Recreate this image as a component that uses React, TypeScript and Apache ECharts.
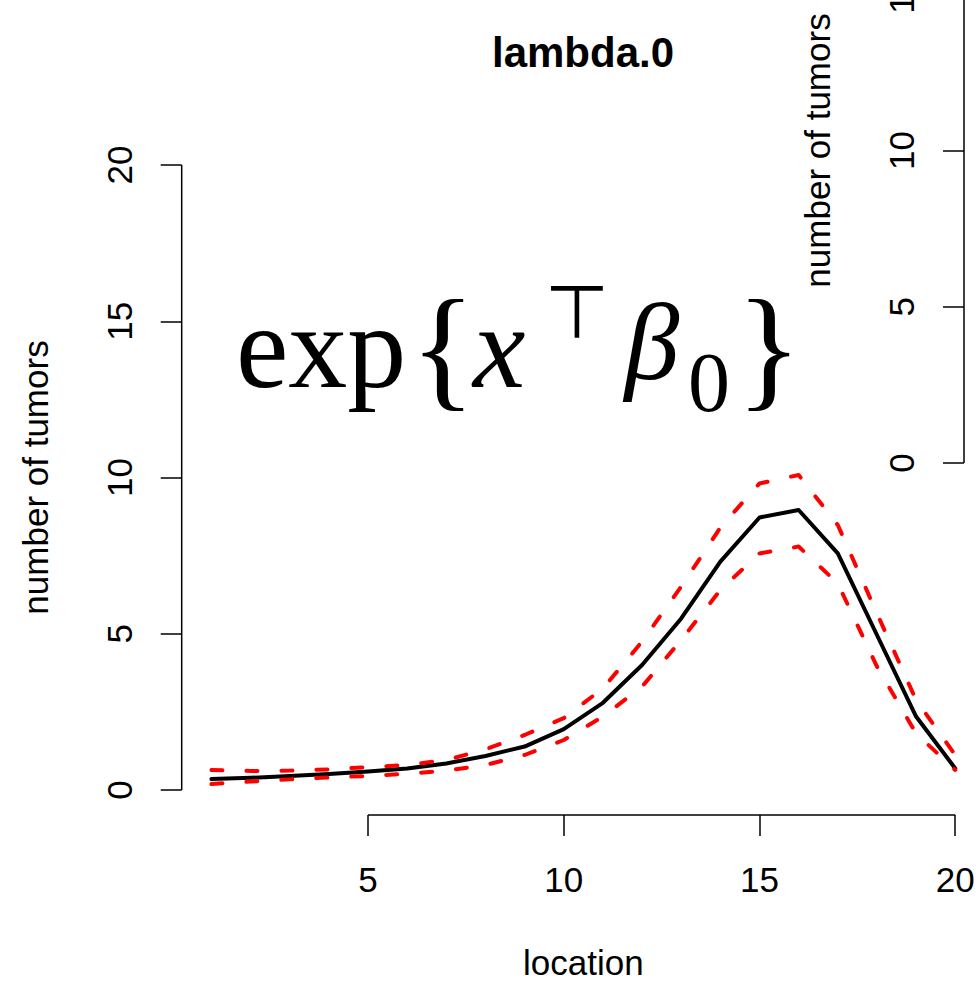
import React, { useEffect, useRef } from "react";
import * as echarts from "echarts";

// ---- data ----
const locations = [1, 2, 3, 4, 5, 6, 7, 8, 9, 10, 11, 12, 13, 14, 15, 16, 17, 18, 19, 20];
const estimate = [0.35, 0.39, 0.45, 0.51, 0.59, 0.69, 0.85, 1.09, 1.39, 1.95, 2.79, 4.0, 5.49, 7.31, 8.72, 8.96, 7.57, 4.96, 2.35, 0.69];
const upperBand = [0.64, 0.61, 0.62, 0.66, 0.73, 0.8, 0.96, 1.3, 1.76, 2.3, 3.25, 4.75, 6.51, 8.4, 9.81, 10.08, 8.48, 5.65, 2.88, 1.12];
const lowerBand = [0.19, 0.27, 0.34, 0.4, 0.45, 0.52, 0.62, 0.8, 1.12, 1.6, 2.35, 3.31, 4.8, 6.4, 7.57, 7.79, 6.61, 3.95, 1.81, 0.64];
const xTickValues = [5, 10, 15, 20];
const yTickValues = [0, 5, 10, 15, 20];
const titleText = "lambda.0";
const xLabel = "location";
const yLabel = "number of tumors";

// R-style axis extents (4% padding)
const xLo = 1, xHi = 20, yLo = 0, yHi = 20;
const xPad = 0.04 * (xHi - xLo);
const yPad = 0.04 * (yHi - yLo);
const xMin = xLo - xPad, xMax = xHi + xPad;
const yMin = yLo - yPad, yMax = yHi + yPad;

const SANS = "Liberation Sans, Arial, Helvetica, sans-serif";
const SERIF = "Liberation Serif, Times New Roman, serif";

const pairs = (ys: number[]) => locations.map((x, i) => [x, ys[i]]);

export default function App() {
  const ref = useRef<HTMLDivElement>(null);
  useEffect(() => {
    if (!ref.current) return;
    const chart = echarts.init(ref.current, null, { renderer: "svg" });

    const axisLabelStyle = { color: "#000", fontSize: 35, fontFamily: SANS };
    const tickStyle = { color: "#000", width: 1.5 };

    const option: any = {
      animation: false,
      backgroundColor: "#fff",
      title: {
        text: titleText,
        left: 583,
        top: 31,
        padding: 0,
        textAlign: "center",
        textStyle: { fontSize: 42, fontWeight: "bold", fontFamily: SANS, color: "#000" },
      },
      grid: [
        { left: 181.7, top: 140, width: 803.3, height: 675, containLabel: false, outerBoundsMode: "none" },
        { left: 964, top: -187, width: 803.3, height: 675, containLabel: false, outerBoundsMode: "none" },
      ],
      xAxis: [
        {
          type: "value",
          gridIndex: 0,
          position: "bottom",
          min: xMin,
          max: xMax,
          axisLine: { show: false, onZero: false },
          splitLine: { show: false },
          axisTick: { show: true, inside: false, customValues: xTickValues, length: 21, lineStyle: tickStyle },
          axisLabel: { show: true, customValues: xTickValues, margin: 47, ...axisLabelStyle },
          name: xLabel,
          nameLocation: "middle",
          nameGap: 130,
          nameTextStyle: { ...axisLabelStyle },
        },
        {
          type: "value",
          gridIndex: 1,
          min: xMin,
          max: xMax,
          show: false,
          axisLine: { onZero: false },
        },
      ],
      yAxis: [
        {
          type: "value",
          gridIndex: 0,
          position: "left",
          min: yMin,
          max: yMax,
          axisLine: { show: false, onZero: false },
          splitLine: { show: false },
          axisTick: { show: true, inside: false, customValues: yTickValues, length: 21, lineStyle: tickStyle },
          axisLabel: { show: true, customValues: yTickValues, rotate: 90, margin: 45, ...axisLabelStyle },
          name: yLabel,
          nameLocation: "middle",
          nameGap: 129,
          nameTextStyle: { ...axisLabelStyle },
        },
        {
          type: "value",
          gridIndex: 1,
          position: "left",
          min: yMin,
          max: yMax,
          axisLine: { show: false, onZero: false },
          splitLine: { show: false },
          axisTick: { show: true, inside: false, customValues: yTickValues, length: 21, lineStyle: tickStyle },
          axisLabel: { show: true, customValues: yTickValues, rotate: 90, margin: 45, ...axisLabelStyle },
          name: yLabel,
          nameLocation: "middle",
          nameGap: 129,
          nameTextStyle: { ...axisLabelStyle },
        },
      ],
      series: [
        {
          type: "line",
          xAxisIndex: 0,
          yAxisIndex: 0,
          data: pairs(estimate),
          symbol: "none",
          silent: true,
          lineStyle: { color: "#000", width: 4, cap: "round", join: "round" },
          z: 3,
        },
        {
          type: "line",
          xAxisIndex: 0,
          yAxisIndex: 0,
          data: pairs(upperBand),
          symbol: "none",
          silent: true,
          lineStyle: { color: "#ff0000", width: 4, type: [11, 24], cap: "round", join: "round" },
          z: 4,
        },
        {
          type: "line",
          xAxisIndex: 0,
          yAxisIndex: 0,
          data: pairs(lowerBand),
          symbol: "none",
          silent: true,
          lineStyle: { color: "#ff0000", width: 4, type: [11, 24], cap: "round", join: "round" },
          z: 4,
        },
        // axis lines (R draws them only from first to last tick)
        {
          type: "line",
          xAxisIndex: 0,
          yAxisIndex: 0,
          data: [
            [xTickValues[0], yMin],
            [xTickValues[xTickValues.length - 1], yMin],
          ],
          symbol: "none",
          silent: true,
          clip: false,
          lineStyle: { color: "#000", width: 1.5 },
        },
        {
          type: "line",
          xAxisIndex: 0,
          yAxisIndex: 0,
          data: [
            [xMin, yTickValues[0]],
            [xMin, yTickValues[yTickValues.length - 1]],
          ],
          symbol: "none",
          silent: true,
          clip: false,
          lineStyle: { color: "#000", width: 1.5 },
        },
        {
          type: "line",
          xAxisIndex: 1,
          yAxisIndex: 1,
          data: [
            [xMin, yTickValues[0]],
            [xMin, yTickValues[yTickValues.length - 1]],
          ],
          symbol: "none",
          silent: true,
          clip: false,
          lineStyle: { color: "#000", width: 1.5 },
        },
      ],
      graphic: [
        {
          type: "text",
          x: 236,
          y: 347,
          style: { text: "exp", font: `118px ${SERIF}`, fill: "#000", textAlign: "left", textVerticalAlign: "middle" },
        },
        {
          type: "text",
          x: 443,
          y: 347,
          style: { text: "{", font: `136px ${SERIF}`, fill: "#000", textAlign: "center", textVerticalAlign: "middle" },
        },
        {
          type: "text",
          x: 473,
          y: 347,
          style: { text: "x", font: `italic 118px ${SERIF}`, fill: "#000", textAlign: "left", textVerticalAlign: "middle" },
        },
        {
          type: "text",
          x: 577,
          y: 312,
          style: { text: "⊤", font: `74px DejaVu Sans, sans-serif`, fill: "#000", textAlign: "center", textVerticalAlign: "middle" },
        },
        {
          type: "text",
          x: 652,
          y: 342,
          style: { text: "β", font: `italic 110px ${SERIF}`, fill: "#000", textAlign: "center", textVerticalAlign: "middle" },
        },
        {
          type: "text",
          x: 709,
          y: 382,
          style: { text: "0", font: `84px ${SERIF}`, fill: "#000", textAlign: "center", textVerticalAlign: "middle" },
        },
        {
          type: "text",
          x: 769,
          y: 347,
          style: { text: "}", font: `136px ${SERIF}`, fill: "#000", textAlign: "center", textVerticalAlign: "middle" },
        },
      ],
    };
    chart.setOption(option);
    return () => chart.dispose();
  }, []);

  return (
    <div
      ref={ref}
      style={{ position: "fixed", left: 0, top: 0, width: 976, height: 981, background: "#fff" }}
    />
  );
}
